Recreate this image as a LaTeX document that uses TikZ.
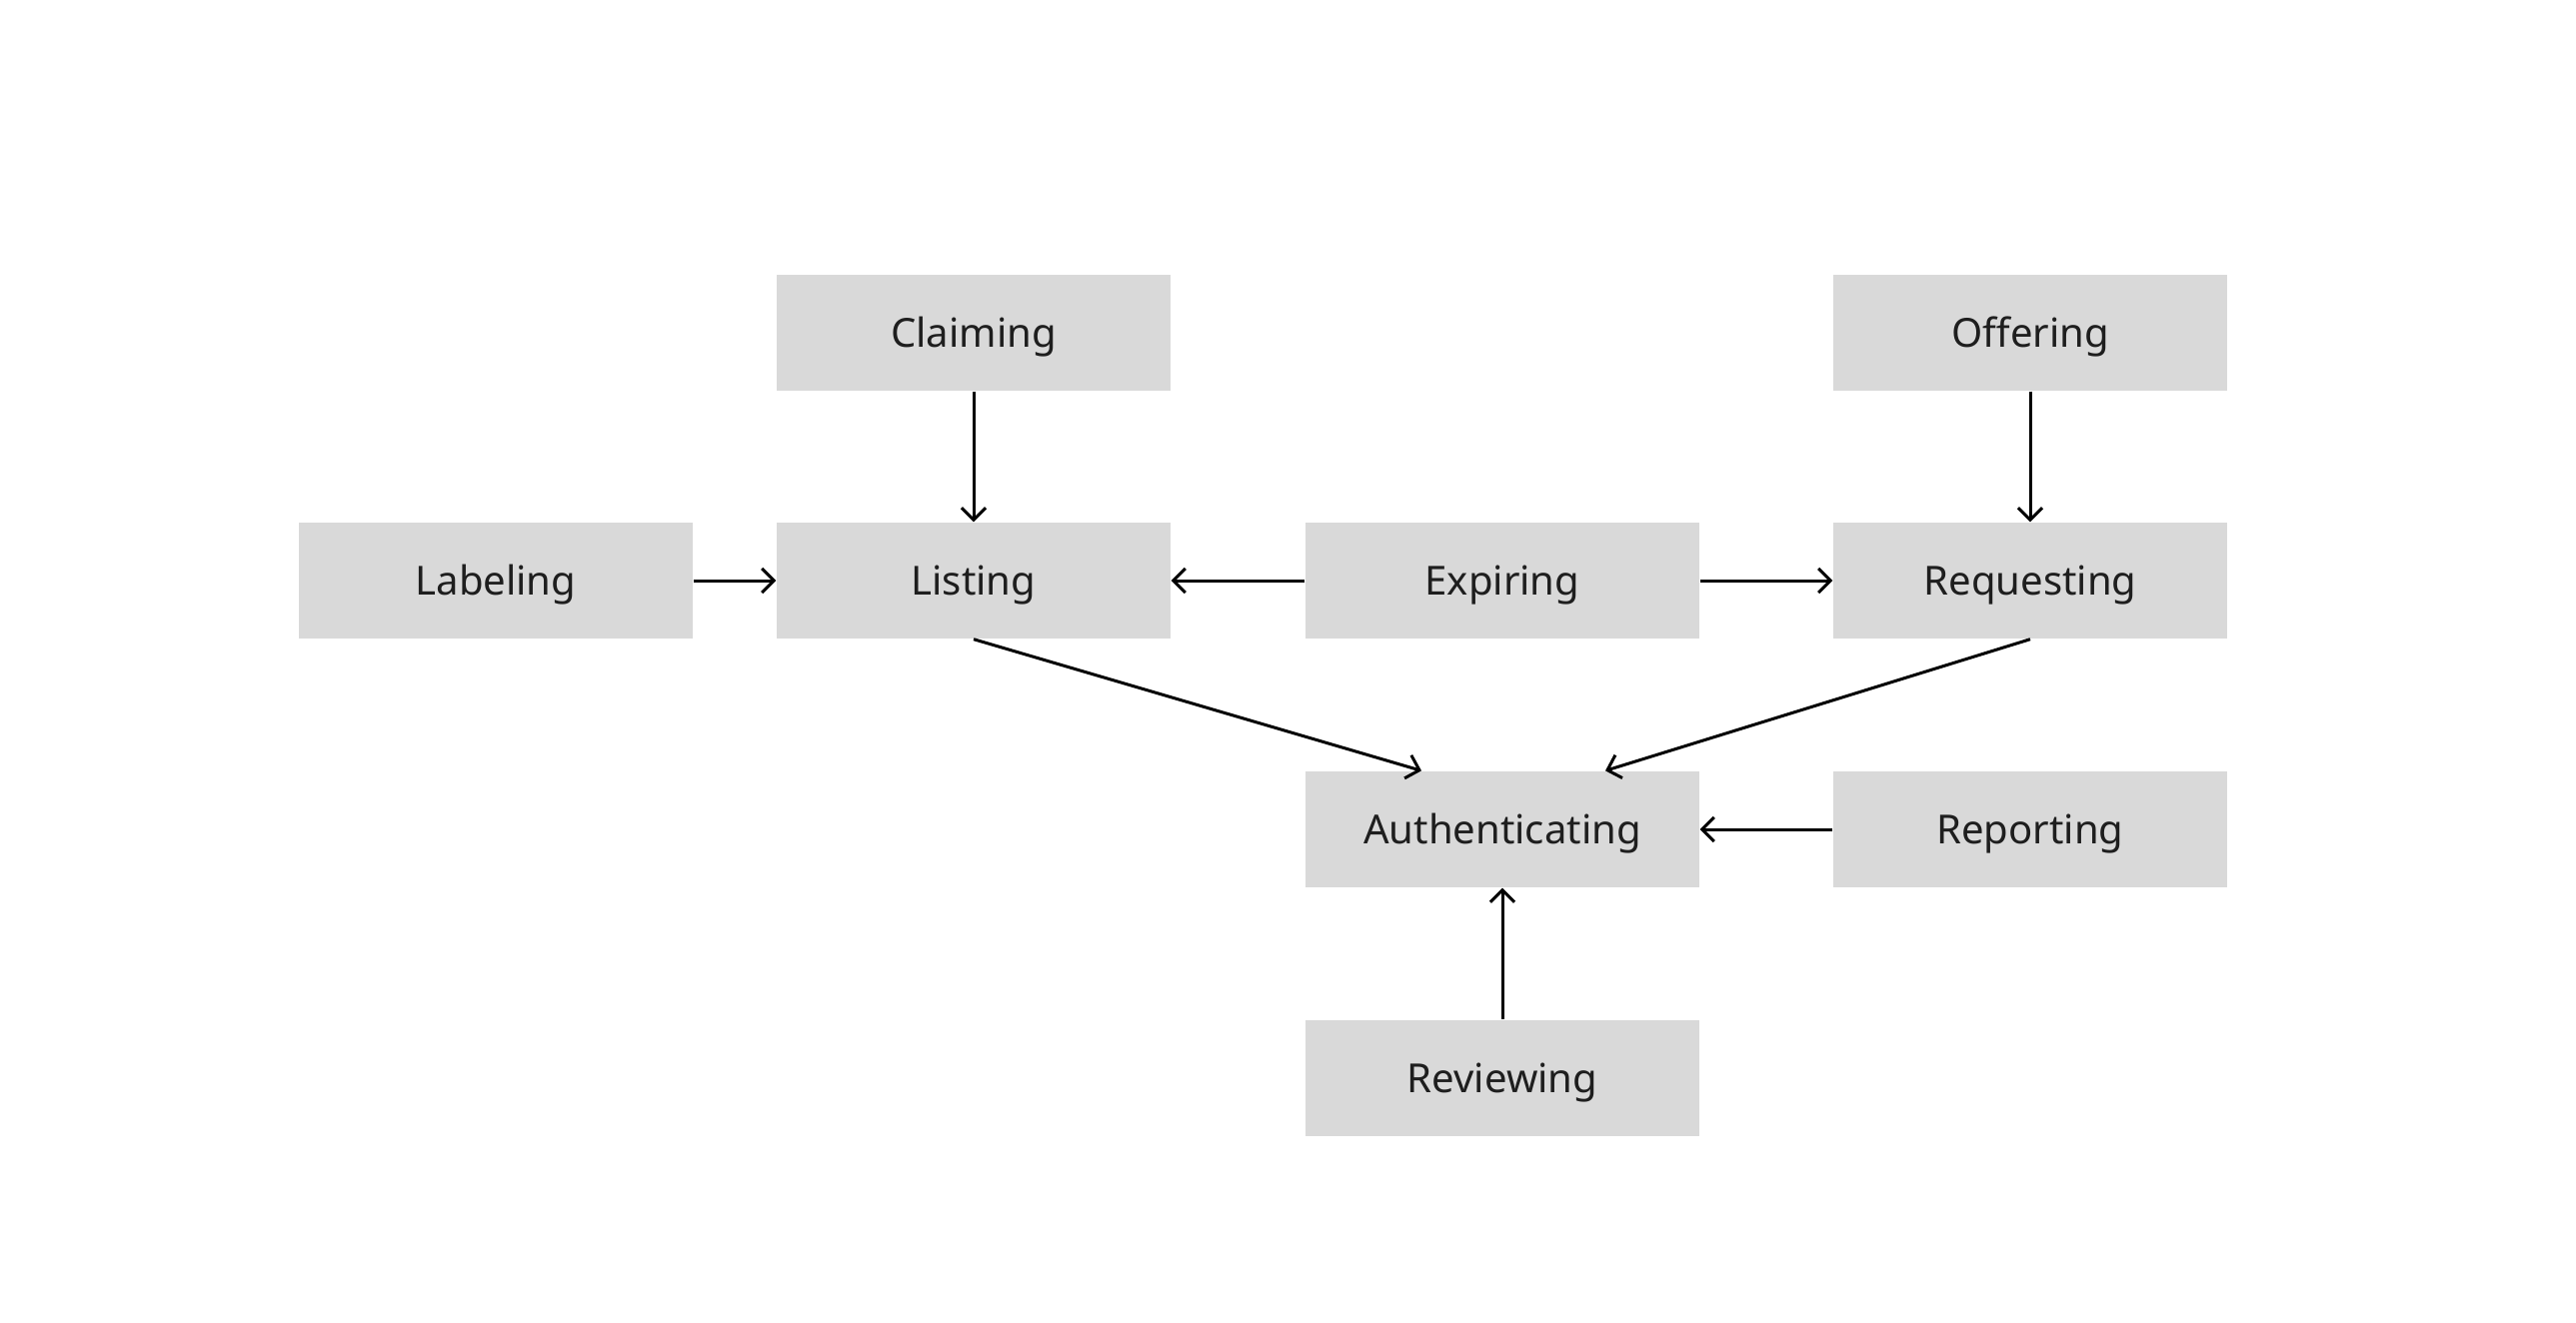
\documentclass[tikz,border=0pt]{standalone}
\usepackage{fontspec}
\setmainfont{Noto Sans}
\usetikzlibrary{arrows.meta}
\definecolor{boxfill}{HTML}{D9D9D9}
\definecolor{txt}{HTML}{1E1E1E}
\begin{document}
\begin{tikzpicture}[x=0.1mm,y=-0.1mm,
  box/.style={fill=boxfill, draw=none, minimum width=39.4mm, minimum height=11.6mm, inner sep=0pt,
    text=txt, font=\fontsize{11.4pt}{14pt}\selectfont, text height=8.1pt, text depth=0pt},
  conn/.style={draw=black, line width=0.85pt, -{Straight Barb[length=1.2mm,width=2.4mm,line width=0.85pt]}}]
\useasboundingbox (0,0) rectangle (2577,1323);
\node[box] (claiming) at (974,333) {Claiming};
\node[box] (offering) at (2031,333) {Offering};
\node[box] (labeling) at (496,581) {Labeling};
\node[box] (listing) at (974,581) {Listing};
\node[box] (expiring) at (1503,581) {Expiring};
\node[box] (requesting) at (2031,581) {Requesting};
\node[box] (auth) at (1503,830) {Authenticating};
\node[box] (reporting) at (2031,830) {Reporting};
\node[box] (reviewing) at (1503,1079) {Reviewing};
\draw[conn] (claiming.south) -- (listing.north);
\draw[conn] (offering.south) -- (requesting.north);
\draw[conn] (labeling.east) -- (listing.west);
\draw[conn] (expiring.west) -- (listing.east);
\draw[conn] (expiring.east) -- (requesting.west);
\draw[conn] (listing.south) -- ([xshift=-8.1mm]auth.north);
\draw[conn] (requesting.south) -- ([xshift=10.3mm]auth.north);
\draw[conn] (reporting.west) -- (auth.east);
\draw[conn] (reviewing.north) -- (auth.south);
\end{tikzpicture}
\end{document}
